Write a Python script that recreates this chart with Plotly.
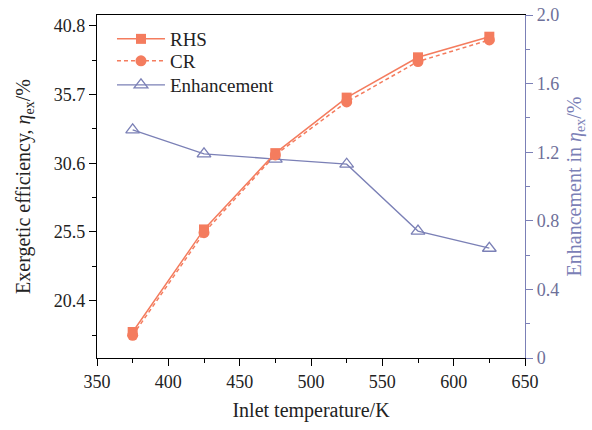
import plotly.graph_objects as go

temperature = [375, 425, 475, 525, 575, 625]
rhs = [18.08, 25.69, 31.35, 35.47, 38.46, 39.99]
cr = [17.83, 25.45, 31.22, 35.15, 38.15, 39.75]
enhancement = [1.33, 1.19, 1.16, 1.13, 0.74, 0.64]

left_ticks = [20.4, 25.5, 30.6, 35.7, 40.8]
left_ticklabels = ["20.4", "25.5", "30.6", "35.7", "40.8"]
right_ticks = [0, 0.4, 0.8, 1.2, 1.6, 2.0]
right_ticklabels = ["0", "0.4", "0.8", "1.2", "1.6", "2.0"]

ORANGE = "#F47C5E"
PURPLE = "#7B80B6"
FONT = "Liberation Serif"

fig = go.Figure()
fig.add_trace(go.Scatter(
    x=temperature, y=enhancement, name="Enhancement", yaxis="y", legend="legend3",
    mode="lines+markers", line=dict(color=PURPLE, width=1.3),
    marker=dict(symbol="triangle-up-open", size=12, color=PURPLE, line=dict(width=1.3)),
))
fig.add_trace(go.Scatter(
    x=temperature, y=rhs, name="RHS", yaxis="y2", legend="legend",
    mode="lines+markers", line=dict(color=ORANGE, width=1.5),
    marker=dict(symbol="square", size=10, color=ORANGE),
))
fig.add_trace(go.Scatter(
    x=temperature, y=cr, name="CR", yaxis="y2", legend="legend2",
    mode="lines+markers", line=dict(color=ORANGE, width=1.5, dash="4px,3px"),
    marker=dict(symbol="circle", size=11, color=ORANGE),
))

leg_common = dict(x=0.035, xanchor="left", yanchor="middle",
                  bgcolor="rgba(0,0,0,0)", font=dict(size=19, family=FONT),
                  itemwidth=48)

fig.update_layout(
    width=592, height=430,
    margin=dict(l=97, r=67, t=15, b=72, autoexpand=False),
    paper_bgcolor="white", plot_bgcolor="white",
    font=dict(family=FONT, size=18, color="#222222"),
    showlegend=True,
    legend=dict(y=0.930, **leg_common),
    legend2=dict(y=0.866, **leg_common),
    legend3=dict(y=0.796, **leg_common),
    xaxis=dict(
        range=[350, 650], dtick=50, tick0=350,
        ticks="outside", ticklen=7, tickcolor="black",
        minor=dict(ticks="outside", ticklen=4, dtick=25, tick0=350, tickcolor="black"),
        showline=True, linecolor="black", linewidth=1.3, mirror=True,
        showgrid=False, zeroline=False,
        title=dict(text="Inlet temperature/K", font=dict(size=20, family=FONT), standoff=12),
    ),
    yaxis=dict(
        side="right", range=[0, 2.0],
        tickmode="array", tickvals=right_ticks, ticktext=right_ticklabels,
        ticks="outside", ticklen=7, tickcolor=PURPLE,
        minor=dict(ticks="outside", ticklen=4, tickmode="linear", tick0=0, dtick=0.2, tickcolor=PURPLE),
        showline=True, linecolor=PURPLE, linewidth=1.3,
        showgrid=False, zeroline=False,
        tickfont=dict(color="#6E7099", size=18, family=FONT),
        title=dict(text="Enhancement in <i>η</i><sub>ex</sub>/%",
                   font=dict(color=PURPLE, size=20, family=FONT), standoff=8),
    ),
    yaxis2=dict(
        overlaying="y", side="left", range=[16.15, 41.6],
        tickmode="array", tickvals=left_ticks, ticktext=left_ticklabels,
        ticks="outside", ticklen=7, tickcolor="black",
        minor=dict(ticks="outside", ticklen=4, tickmode="linear", tick0=20.4, dtick=2.55, tickcolor="black"),
        showline=True, linecolor="black", linewidth=1.3,
        showgrid=False, zeroline=False,
        title=dict(text="Exergetic efficiency, <i>η</i><sub>ex</sub>/%",
                   font=dict(size=20, family=FONT), standoff=17),
    ),
)

fig.write_html("out.html",
               config={"displayModeBar": False},
               post_script="document.body.style.margin='0';document.body.style.overflow='hidden';")
